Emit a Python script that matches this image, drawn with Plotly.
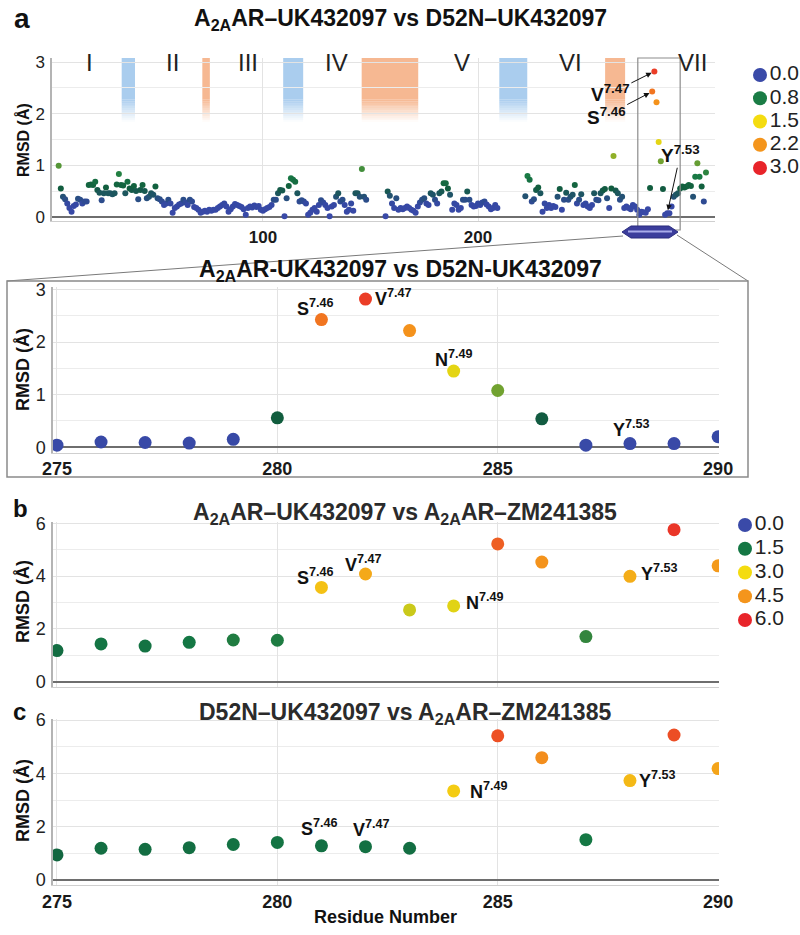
import plotly.graph_objects as go

W, H = 800, 935
FONT = "Liberation Sans, Arial, sans-serif"

# ---------------- data ----------------
# panel a: full receptor, A2AAR-UK432097 vs D52N-UK432097
residues_a = list(range(5, 149)) + list(range(157, 210)) + list(range(222, 307))
rmsd_a_tm1_ecl2 = [
    0.99, 0.55, 0.39, 0.34, 0.26, 0.17, 0.10, 0.21, 0.24, 0.35,
    0.33, 0.26, 0.30, 0.30, 0.62, 0.63, 0.62, 0.68, 0.52, 0.47,
    0.32, 0.46, 0.57, 0.46, 0.46, 0.44, 0.46, 0.63, 0.83, 0.62,
    0.61, 0.46, 0.68, 0.55, 0.52, 0.60, 0.50, 0.34, 0.52, 0.62,
    0.50, 0.36, 0.39, 0.46, 0.43, 0.59, 0.36, 0.34, 0.30, 0.23,
    0.26, 0.33, 0.26, 0.08, 0.17, 0.20, 0.24, 0.26, 0.33, 0.28,
    0.23, 0.33, 0.30, 0.19, 0.17, 0.14, 0.08, 0.10, 0.12, 0.10,
    0.14, 0.12, 0.14,
    0.14, 0.17, 0.20, 0.23, 0.26, 0.20, 0.10, 0.15, 0.20, 0.25,
    0.23, 0.21, 0.19, 0.15, 0.04, 0.17, 0.20, 0.18, 0.22, 0.19,
    0.21, 0.14, 0.12, 0.15, 0.17, 0.19, 0.23, 0.33, 0.33, 0.46,
    0.52, 0.51, 0.01, 0.36, 0.60, 0.75, 0.72, 0.68, 0.46, 0.30,
    0.32, 0.30, 0.26, 0.04, 0.08, 0.14, 0.17, 0.10, 0.23, 0.32,
    0.28, 0.23, 0.17, 0.01, 0.20, 0.23, 0.39, 0.46, 0.30, 0.33,
    0.23, 0.10, 0.14, 0.26, 0.12, 0.46, 0.46, 0.39, 0.93, 0.39,
    0.33,
]
rmsd_a_ecl2_tm5_tm6 = [
    0.01, 0.49, 0.41, 0.26, 0.17, 0.36, 0.14, 0.17, 0.15, 0.17,
    0.20, 0.17, 0.14, 0.12, 0.08, 0.20, 0.28, 0.33, 0.36, 0.26,
    0.23, 0.46, 0.43, 0.33, 0.26, 0.46, 0.49, 0.65, 0.65, 0.55,
    0.43, 0.14, 0.26, 0.23, 0.14, 0.17, 0.33, 0.33, 0.49, 0.33,
    0.23, 0.20, 0.21, 0.26, 0.23, 0.28, 0.30, 0.24, 0.20, 0.15,
    0.17, 0.23, 0.17,
]
rmsd_a_tm6_tm7_start = [
    0.40, 0.79, 0.72, 0.30, 0.34, 0.52, 0.57, 0.46, 0.10, 0.26, 0.17,
    0.23, 0.17, 0.21, 0.19, 0.39, 0.54, 0.14, 0.33, 0.47, 0.33,
    0.39, 0.43, 0.62, 0.26, 0.33, 0.44, 0.23, 0.26, 0.20, 0.17,
    0.23, 0.46, 0.33, 0.32, 0.46, 0.51, 0.54, 0.36, 0.17, 0.55, 1.18,
    0.51, 0.46, 0.33, 0.39, 0.17, 0.20, 0.17, 0.15, 0.23, 0.20, 0.14,
]
# residues 275-290 (zoomed panel of a)
residues_zoom = list(range(275, 291))
rmsd_zoom = [0.04, 0.10, 0.09, 0.08, 0.15, 0.56, 2.43, 2.82,
             2.22, 1.45, 1.08, 0.54, 0.04, 0.07, 0.07, 0.20]
rmsd_a_tm7_end = [0.39, 0.43, 0.46, 0.55, 0.59, 0.57, 0.59, 0.62,
                  0.60, 0.39, 0.78, 1.04, 0.78, 0.59, 0.30, 0.86]
rmsd_a = rmsd_a_tm1_ecl2 + rmsd_a_ecl2_tm5_tm6 + rmsd_a_tm6_tm7_start + rmsd_zoom + rmsd_a_tm7_end

# panel b: A2AAR-UK432097 vs A2AAR-ZM241385 ; panel c: D52N-UK432097 vs A2AAR-ZM241385
rmsd_b = [1.18, 1.43, 1.35, 1.49, 1.58, 1.57, 3.57, 4.08,
          2.72, 2.87, 5.22, 4.53, 1.71, 3.99, 5.76, 4.39]
rmsd_c = [0.94, 1.19, 1.15, 1.21, 1.33, 1.41, 1.28, 1.25,
          1.19, 3.34, 5.41, 4.59, 1.51, 3.73, 5.44, 4.18]

helix_labels = ["I", "II", "III", "IV", "V", "VI", "VII"]
helix_label_x = [19.5, 57.7, 93.0, 134.4, 192.4, 242.8, 299.6]

band_start = [34.3, 71.8, 109.4, 145.9, 209.9, 259.1]
band_end = [40.5, 75.3, 118.7, 172.2, 222.9, 268.4]
band_kind = ["blue", "orange", "blue", "orange", "blue", "orange"]

legend_a_values = [0.0, 0.8, 1.5, 2.2, 3.0]
legend_bc_values = [0.0, 1.5, 3.0, 4.5, 6.0]

# ---------------- helpers ----------------
def px(x):
    return x / W

def py(y):
    return 1 - y / H

BLUE, DKGREEN, GREEN, YELLOW, ORANGE, RED = "#3a4aa8", "#115c3e", "#1a7c45", "#f4dc10", "#f4951c", "#e8242a"
cs_a = [[0, BLUE], [0.25 / 3, "#3548a4"], [0.55 / 3, DKGREEN], [0.8 / 3, GREEN],
        [1.5 / 3, YELLOW], [2.2 / 3, ORANGE], [1, RED]]
cs_bc = [[0, BLUE], [0.1, DKGREEN], [0.25, "#147744"], [0.5, YELLOW], [0.75, ORANGE], [1, RED]]

fig = go.Figure()

def pts(x, y, xa, ya, cs, cmax, size):
    fig.add_trace(go.Scatter(
        x=x, y=y, mode="markers", xaxis=xa, yaxis=ya,
        marker=dict(size=size, color=y, colorscale=cs, cmin=0, cmax=cmax, line=dict(width=0)),
        hoverinfo="x+y", showlegend=False))

pts(residues_a, rmsd_a, "x", "y", cs_a, 3, 6)
pts(residues_zoom, rmsd_zoom, "x2", "y2", cs_a, 3, 13)
pts(residues_zoom, rmsd_b, "x3", "y3", cs_bc, 6, 13)
pts(residues_zoom, rmsd_c, "x4", "y4", cs_bc, 6, 13)

def legend(vals, cs, cmax, xa, ya):
    fig.add_trace(go.Scatter(
        x=[20] * len(vals), y=list(range(len(vals))), mode="markers+text", xaxis=xa, yaxis=ya,
        marker=dict(size=14, color=vals, colorscale=cs, cmin=0, cmax=cmax),
        text=[f"{v:.1f}" for v in vals], textposition="middle right",
        textfont=dict(family=FONT, size=21, color="#222"),
        cliponaxis=False, hoverinfo="skip", showlegend=False))

legend(legend_a_values, cs_a, 3, "x5", "y5")
legend(legend_bc_values, cs_bc, 6, "x6", "y6")

# ---------------- axes ----------------
GRID = "#e3e3e3"
def xax(dom, rng, anchor, tickvals=None, show=True, size=18, standoff=0):
    d = dict(domain=dom, range=rng, anchor=anchor, showgrid=True, gridcolor=GRID, gridwidth=1,
             zeroline=False, showline=True, linecolor="#cfcfcf", linewidth=1.2, ticks="",
             showticklabels=show, tickfont=dict(family=FONT, size=size, color="#1a1a1a", weight="bold"),
             fixedrange=True, ticklabelstandoff=standoff, automargin=False)
    if tickvals is not None:
        d.update(tickmode="array", tickvals=tickvals)
    else:
        d.update(tickmode="linear", tick0=275, dtick=5)
    return d

def yax(dom, rng, anchor, dtick, mdtick, size=18):
    return dict(domain=dom, range=rng, anchor=anchor, tickmode="linear", tick0=0, dtick=dtick,
                showgrid=True, gridcolor=GRID, gridwidth=1,
                minor=dict(tick0=0, dtick=mdtick, showgrid=True, gridcolor="#ececec", gridwidth=1),
                zeroline=True, zerolinecolor="#6e6e6e", zerolinewidth=1.5,
                showline=True, linecolor="#b4b4b4", linewidth=1.5, ticks="",
                tickfont=dict(family=FONT, size=size, color="#222"), fixedrange=True,
                ticklabelstandoff=2, automargin=False)

def hidden(dom, rng, anchor):
    return dict(domain=dom, range=rng, anchor=anchor, visible=False, fixedrange=True, automargin=False)

XDOM = [px(53), px(719)]
XR = [274.91, 290.02]
fig.update_layout(
    xaxis=xax([px(52), px(715)], [1.9, 310.2], "y", tickvals=[100, 200], size=17),
    yaxis=yax([py(221), py(58)], [-0.08, 3.08], "x", 1, 0.5, size=17),
    xaxis2=xax(XDOM, XR, "y2"),
    yaxis2=yax([py(452.5), py(287)], [-0.1, 3.05], "x2", 1, 0.5, size=18),
    xaxis3=xax(XDOM, XR, "y3", show=False),
    yaxis3=yax([py(686.7), py(522)], [-0.19, 6.05], "x3", 2, 1),
    xaxis4=xax(XDOM, XR, "y4"),
    yaxis4=yax([py(885), py(718.5)], [-0.19, 6.06], "x4", 2, 1),
    xaxis5=hidden([px(740), px(800)], [0, 60], "y5"),
    yaxis5=hidden([py(179.6), py(63.4)], [4.5, -0.5], "x5"),
    xaxis6=hidden([px(725), px(785)], [0, 60], "y6"),
    yaxis6=hidden([py(631.9), py(513.1)], [4.5, -0.5], "x6"),
)

# ---------------- shapes ----------------
shapes = []
band_rgb = {"blue": (170, 205, 238), "orange": (246, 184, 146)}
solid_bottom, fade_bottom, top = 2.28, 1.84, 3.08
nfade = 12
for x0, x1, kind in zip(band_start, band_end, band_kind):
    r, g, b = band_rgb[kind]
    shapes.append(dict(type="rect", xref="x", yref="y", x0=x0, x1=x1, y0=solid_bottom, y1=top,
                       fillcolor=f"rgb({r},{g},{b})", line=dict(width=0), layer="below"))
    h = (solid_bottom - fade_bottom) / nfade
    for j in range(nfade):
        a = 1 - (j + 0.5) / nfade
        shapes.append(dict(type="rect", xref="x", yref="y", x0=x0, x1=x1,
                           y0=solid_bottom - (j + 1) * h, y1=solid_bottom - j * h,
                           fillcolor=f"rgba({r},{g},{b},{a:.3f})", line=dict(width=0), layer="below"))

# zoom window in panel a
shapes.append(dict(type="rect", xref="x", yref="paper", x0=274.3, x1=294.0, y0=py(230), y1=py(58),
                   line=dict(color="#8c8c8c", width=1.2)))
# helix glyph below the axis
hexpts = [(622, 232), (631, 226), (669, 226), (678, 232), (669, 238), (631, 238)]
path = "M " + " L ".join(f"{px(a):.5f},{py(b):.5f}" for a, b in hexpts) + " Z"
shapes.append(dict(type="path", xref="paper", yref="paper", path=path,
                   fillcolor="#3b3d9c", line=dict(color="#2a2c7e", width=1)))
shapes.append(dict(type="line", xref="paper", yref="paper", x0=px(628), x1=px(672), y0=py(231.5), y1=py(231.5),
                   line=dict(color="#a9acea", width=2)))
# connecting lines and inset frame
shapes.append(dict(type="line", xref="paper", yref="paper", x0=px(623), y0=py(236), x1=px(7), y1=py(281),
                   line=dict(color="#7a7a7a", width=1)))
shapes.append(dict(type="line", xref="paper", yref="paper", x0=px(677), y0=py(235), x1=px(748), y1=py(281),
                   line=dict(color="#7a7a7a", width=1)))
shapes.append(dict(type="rect", xref="paper", yref="paper", x0=px(7), x1=px(748), y0=py(477), y1=py(281),
                   line=dict(color="#8a8a8a", width=1.5)))

# ---------------- annotations ----------------
ann = []
def text(x, y, s, size, bold=True, color="#111", xanchor="center", **kw):
    ann.append(dict(xref="paper", yref="paper", x=px(x), y=py(y), text=(f"<b>{s}</b>" if bold else s),
                    showarrow=False, xanchor=xanchor, yanchor="middle",
                    font=dict(family=FONT, size=size, color=color), **kw))

text(22, 18, "a", 28)
text(20, 508, "b", 24)
text(19, 711, "c", 24)
text(400, 20, "A<sub>2A</sub>AR–UK432097 vs D52N–UK432097", 23)
text(400, 271, "A<sub>2A</sub>AR-UK432097 vs D52N-UK432097", 23)
text(405, 513, "A<sub>2A</sub>AR–UK432097 vs A<sub>2A</sub>AR–ZM241385", 23, color="#2b2b2b")
text(405, 713, "D52N–UK432097 vs A<sub>2A</sub>AR–ZM241385", 23, color="#2b2b2b")
text(385, 917, "Residue Number", 18)
for yc, sz in [(140, 16), (370, 18), (602, 18), (801, 18)]:
    text(23, yc, "RMSD (Å)", sz, textangle=-90)

for lab, xv in zip(helix_labels, helix_label_x):
    ann.append(dict(xref="x", yref="paper", x=xv, y=py(47), text=lab, showarrow=False,
                    font=dict(family=FONT, size=24, color="#222")))

def arrow(xv, yv, s, axp, ayp):
    ann.append(dict(xref="x", yref="y", x=xv, y=yv, text=f"<b>{s}</b>", showarrow=True,
                    ax=axp, ay=ayp, arrowhead=2, arrowsize=1.1, arrowwidth=1, arrowcolor="#111",
                    standoff=3, font=dict(family=FONT, size=19, color="#111")))

arrow(282, rmsd_a[residues_a.index(282)], "V<sup>7.47</sup>", -44, 22)
arrow(281, rmsd_a[residues_a.index(281)], "S<sup>7.46</sup>", -46, 24)
arrow(288, rmsd_a[residues_a.index(288)], "Y<sup>7.53</sup>", 13, -59)

def label(xa, ya, res, vals, s, xshift, yshift, xanchor="center"):
    ann.append(dict(xref=xa, yref=ya, x=res, y=vals[residues_zoom.index(res)], text=f"<b>{s}</b>",
                    showarrow=False, xanchor=xanchor, yanchor="middle", xshift=xshift, yshift=yshift,
                    font=dict(family=FONT, size=18, color="#111")))

label("x2", "y2", 281, rmsd_zoom, "S<sup>7.46</sup>", -6, 12)
label("x2", "y2", 282, rmsd_zoom, "V<sup>7.47</sup>", 7, 2, "left")
label("x2", "y2", 284, rmsd_zoom, "N<sup>7.49</sup>", 0, 13)
label("x2", "y2", 288, rmsd_zoom, "Y<sup>7.53</sup>", 2, 15)

label("x3", "y3", 281, rmsd_b, "S<sup>7.46</sup>", -6, 11)
label("x3", "y3", 282, rmsd_b, "V<sup>7.47</sup>", -2, 11)
label("x3", "y3", 284, rmsd_b, "N<sup>7.49</sup>", 10, 4, "left")
label("x3", "y3", 288, rmsd_b, "Y<sup>7.53</sup>", 9, 4, "left")

label("x4", "y4", 281, rmsd_c, "S<sup>7.46</sup>", -2, 18)
label("x4", "y4", 282, rmsd_c, "V<sup>7.47</sup>", 6, 18)
label("x4", "y4", 284, rmsd_c, "N<sup>7.49</sup>", 14, 0, "left")
label("x4", "y4", 288, rmsd_c, "Y<sup>7.53</sup>", 7, 1, "left")

fig.update_layout(
    width=W, height=H, margin=dict(l=0, r=0, t=0, b=0, autoexpand=False),
    paper_bgcolor="white", plot_bgcolor="white",
    font=dict(family=FONT, color="#222"),
    shapes=shapes, annotations=ann, showlegend=False,
)

fig.write_html("out.html", config={"displayModeBar": False},
               post_script="document.body.style.margin='0';document.body.style.padding='0';")
